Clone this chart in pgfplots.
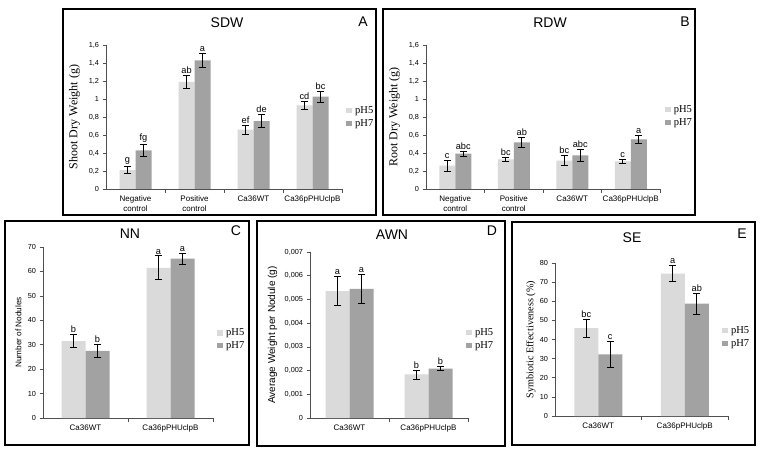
\documentclass[border=0pt]{standalone}
\usepackage{pgfplots}
\pgfplotsset{compat=1.18}
\usepackage{pgfplotstable}
\usepackage{fontspec}
\setmainfont{Liberation Sans}
\newfontfamily\tms{Liberation Serif}
\definecolor{cfive}{HTML}{DADADA}
\definecolor{cseven}{HTML}{A2A2A2}
\definecolor{axc}{HTML}{505050}

\pgfplotstableread{
x y err lab
0 0.21 0.04 g
1 1.19 0.07 ab
2 0.66 0.048 ef
3 0.93 0.045 cd
}\sdwfive
\pgfplotstableread{
x y err lab
0 0.43 0.066 fg
1 1.43 0.078 a
2 0.755 0.074 de
3 1.025 0.06 bc
}\sdwseven
\pgfplotstableread{
x y err lab
0 0.26 0.063 c
1 0.33 0.026 bc
2 0.315 0.055 bc
3 0.307 0.026 c
}\rdwfive
\pgfplotstableread{
x y err lab
0 0.393 0.028 abc
1 0.519 0.055 ab
2 0.374 0.068 abc
3 0.552 0.04 a
}\rdwseven
\pgfplotstableread{
x y err lab
0 31.5 2.6 b
1 61.5 4.9 a
}\nnfive
\pgfplotstableread{
x y err lab
0 27.5 2.7 b
1 65.2 2.3 a
}\nnseven
\pgfplotstableread{
x y err lab
0 0.00535 0.00062 a
1 0.00184 0.00019 b
}\awnfive
\pgfplotstableread{
x y err lab
0 0.00544 0.00062 a
1 0.00208 0.00009 b
}\awnseven
\pgfplotstableread{
x y err lab
0 46.0 4.8 bc
1 74.4 4.2 a
}\sefive
\pgfplotstableread{
x y err lab
0 32.2 7.0 c
1 58.8 5.4 ab
}\seseven

\pgfplotsset{
 panel/.style={
   scale only axis, anchor=south west,
   axis x line*=bottom, axis y line*=left,
   axis line style={axc, line width=0.6pt},
   ybar=0pt, ymin=0, enlargelimits=false,
   tick align=outside, major tick length=3.5pt,
   tick style={axc, line width=0.6pt},
   x tick style={draw=none},
   extra x tick style={x tick style={draw=axc}, major tick length=4pt},
   xticklabel style={font=\fontsize{8}{9.5}\selectfont, align=center},
   yticklabel style={font=\fontsize{7.3}{8}\selectfont},
   /pgf/number format/assume math mode=true,
   /pgf/number format/use comma,
   scaled y ticks=false,
   legend style={draw=none, fill=none, anchor=west,
     font=\tms\fontsize{10.5}{12}\selectfont, inner sep=0pt,
     row sep=0.5pt, column sep=1pt},
   legend cell align=left,
   legend image code/.code={\fill[##1] (0pt,-2.7pt) rectangle (6pt,2.7pt);},
   error bars/error bar style={black, line width=0.7pt},
   error bars/error mark options={rotate=90, mark size=3.5pt, black, line width=0.7pt},
 },
 yl/.style={ylabel style={at={(axis description cs:-#1,0.5)}, anchor=center}},
 b5/.style={fill=cfive, draw=none, bar shift=-#1,
   error bars/.cd, y dir=both, y explicit},
 b7/.style={fill=cseven, draw=none, bar shift=#1,
   error bars/.cd, y dir=both, y explicit},
 lab/.style={draw=none, fill=none, bar shift=#1, forget plot,
   nodes near coords, point meta=explicit symbolic,
   every node near coord/.append style={font=\fontsize{9.2}{10}\selectfont,
     black, inner sep=1.5pt}},
}

\begin{document}
\begin{tikzpicture}
\useasboundingbox (0,0) rectangle (762pt,458pt);
\fill[white] (0,0) rectangle (762pt,458pt);

% frames
\draw[line width=1.5pt] (63pt,243pt) rectangle (376pt,449pt);
\draw[line width=1.5pt] (383pt,243pt) rectangle (695pt,449pt);
\draw[line width=1.5pt] (5pt,13pt) rectangle (249pt,237pt);
\draw[line width=1.5pt] (257pt,12pt) rectangle (505pt,237pt);
\draw[line width=1.5pt] (512pt,13pt) rectangle (755pt,236pt);

% titles
\node[font=\fontsize{14}{16}\selectfont] at (227pt,435pt) {SDW};
\node[font=\fontsize{14}{16}\selectfont] at (363pt,436pt) {A};
\node[font=\fontsize{14}{16}\selectfont] at (550pt,435pt) {RDW};
\node[font=\fontsize{14}{16}\selectfont] at (685pt,436pt) {B};
\node[font=\fontsize{14}{16}\selectfont] at (130pt,224pt) {NN};
\node[font=\fontsize{14}{16}\selectfont] at (236pt,227pt) {C};
\node[font=\fontsize{14}{16}\selectfont] at (392pt,223pt) {AWN};
\node[font=\fontsize{14}{16}\selectfont] at (492pt,227pt) {D};
\node[font=\fontsize{14}{16}\selectfont] at (632pt,220pt) {SE};
\node[font=\fontsize{14}{16}\selectfont] at (742pt,224pt) {E};

% A
\begin{axis}[panel, at={(106pt,269pt)}, width=236pt, height=144pt,
  xmin=-0.5, xmax=3.5, ymax=1.6, bar width=16pt,
  xtick={0,1,2,3},
  xticklabels={{Negative\\control},{Positive\\control},Ca36WT,Ca36pPHUclpB},
  extra x ticks={0.5,1.5,2.5,3.5}, extra x tick labels={},
  ytick={0,0.2,0.4,0.6,0.8,1,1.2,1.4,1.6},
  ylabel={Shoot Dry Weight (g)}, yl=0.1335,
  ylabel style={font=\tms\fontsize{12}{14}\selectfont},
  legend style={at={(1.017,0.5)}}]
\addplot[b5=8pt] table[x=x,y=y,y error=err] {\sdwfive};
\addplot[b7=8pt] table[x=x,y=y,y error=err] {\sdwseven};
\legend{pH5,pH7}
\addplot[lab=-8pt] table[x=x,y expr=\thisrow{y}+\thisrow{err},meta=lab] {\sdwfive};
\addplot[lab=8pt] table[x=x,y expr=\thisrow{y}+\thisrow{err},meta=lab] {\sdwseven};
\end{axis}

% B
\begin{axis}[panel, at={(426pt,269pt)}, width=234pt, height=144pt,
  xmin=-0.5, xmax=3.5, ymax=1.6, bar width=16pt,
  xtick={0,1,2,3},
  xticklabels={{Negative\\control},{Positive\\control},Ca36WT,Ca36pPHUclpB},
  extra x ticks={0.5,1.5,2.5,3.5}, extra x tick labels={},
  ytick={0,0.2,0.4,0.6,0.8,1,1.2,1.4,1.6},
  ylabel={Root Dry Weight (g)}, yl=0.1346,
  ylabel style={font=\tms\fontsize{12}{14}\selectfont},
  legend style={at={(1.02,0.507)}}]
\addplot[b5=8pt] table[x=x,y=y,y error=err] {\rdwfive};
\addplot[b7=8pt] table[x=x,y=y,y error=err] {\rdwseven};
\legend{pH5,pH7}
\addplot[lab=-8pt] table[x=x,y expr=\thisrow{y}+\thisrow{err},meta=lab] {\rdwfive};
\addplot[lab=8pt] table[x=x,y expr=\thisrow{y}+\thisrow{err},meta=lab] {\rdwseven};
\end{axis}

% C
\begin{axis}[panel, at={(43pt,40pt)}, width=170pt, height=171pt,
  xmin=-0.5, xmax=1.5, ymax=70, bar width=24pt,
  xtick={0,1}, xticklabels={Ca36WT,Ca36pPHUclpB},
  extra x ticks={0.5,1.5}, extra x tick labels={},
  ytick={0,10,20,30,40,50,60,70},
  ylabel={Number of Nodules}, yl=0.144,
  ylabel style={font=\fontsize{8.2}{10}\selectfont},
  legend style={at={(1.0235,0.46)}}]
\addplot[b5=12pt] table[x=x,y=y,y error=err] {\nnfive};
\addplot[b7=12pt] table[x=x,y=y,y error=err] {\nnseven};
\legend{pH5,pH7}
\addplot[lab=-12pt] table[x=x,y expr=\thisrow{y}+\thisrow{err},meta=lab] {\nnfive};
\addplot[lab=12pt] table[x=x,y expr=\thisrow{y}+\thisrow{err},meta=lab] {\nnseven};
\end{axis}

% D
\begin{axis}[panel, at={(310pt,40pt)}, width=158pt, height=166pt,
  xmin=-0.5, xmax=1.5, ymax=0.007, bar width=24pt,
  xtick={0,1}, xticklabels={Ca36WT,Ca36pPHUclpB},
  extra x ticks={0.5,1.5}, extra x tick labels={},
  ytick={0,0.001,0.002,0.003,0.004,0.005,0.006,0.007},
  yticklabel style={/pgf/number format/fixed, /pgf/number format/precision=3},
  ylabel={Average Weight per Nodule (g)}, yl=0.237,
  ylabel style={font=\fontsize{10}{12}\selectfont},
  legend style={at={(0.987,0.476)}}]
\addplot[b5=12pt] table[x=x,y=y,y error=err] {\awnfive};
\addplot[b7=12pt] table[x=x,y=y,y error=err] {\awnseven};
\legend{pH5,pH7}
\addplot[lab=-12pt] table[x=x,y expr=\thisrow{y}+\thisrow{err},meta=lab] {\awnfive};
\addplot[lab=12pt] table[x=x,y expr=\thisrow{y}+\thisrow{err},meta=lab] {\awnseven};
\end{axis}

% E
\begin{axis}[panel, at={(555pt,42pt)}, width=173pt, height=153pt,
  xmin=-0.5, xmax=1.5, ymax=80, bar width=24pt,
  xtick={0,1}, xticklabels={Ca36WT,Ca36pPHUclpB},
  extra x ticks={0.5,1.5}, extra x tick labels={},
  ytick={0,10,20,30,40,50,60,70,80},
  ylabel={Symbiotic Effectiveness (\%)}, yl=0.139,
  ylabel style={font=\tms\fontsize{10.2}{12}\selectfont},
  legend style={at={(0.965,0.516)}}]
\addplot[b5=12pt] table[x=x,y=y,y error=err] {\sefive};
\addplot[b7=12pt] table[x=x,y=y,y error=err] {\seseven};
\legend{pH5,pH7}
\addplot[lab=-12pt] table[x=x,y expr=\thisrow{y}+\thisrow{err},meta=lab] {\sefive};
\addplot[lab=12pt] table[x=x,y expr=\thisrow{y}+\thisrow{err},meta=lab] {\seseven};
\end{axis}
\end{tikzpicture}
\end{document}
